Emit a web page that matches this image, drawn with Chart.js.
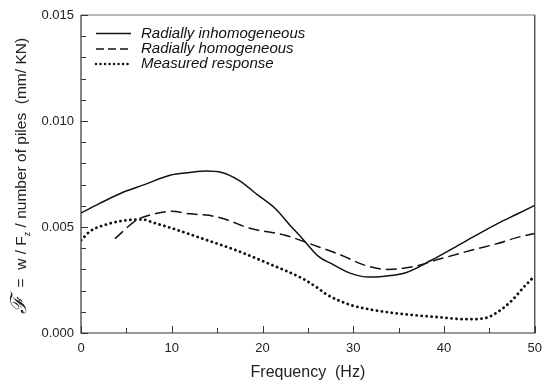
<!DOCTYPE html>
<html>
<head>
<meta charset="utf-8">
<script src="https://cdn.jsdelivr.net/npm/chart.js@4.4.1/dist/chart.umd.min.js"></script>
<style>
  html, body { margin: 0; padding: 0; background: #fff; }
  #wrap { width: 550px; height: 388px; position: relative; }
</style>
</head>
<body>
<div id="wrap"><canvas id="c" width="550" height="388"></canvas></div>
<script>
// ---- data ----
const seriesNames = ["Radially inhomogeneous", "Radially homogeneous", "Measured response"];

const inhomFreq   = [0, 2, 4.7, 7, 9.8, 12, 13.8, 15.5, 17.4, 19.5, 21.4, 23, 24.4, 26.2, 27.6, 29.8, 31.7, 33.5, 35.7, 38.6, 42.2, 45.9, 48, 50];
const inhomValues = [0.00566, 0.0061, 0.00665, 0.0070, 0.00744, 0.00757, 0.00764, 0.00757, 0.0072, 0.0065, 0.00587, 0.0051, 0.00445, 0.0036, 0.00327, 0.0028, 0.00264, 0.00268, 0.00283, 0.00343, 0.00429, 0.00516, 0.0056, 0.00602];

const homFreq   = [3.75, 6.1, 7.9, 10, 12, 14.1, 16, 18.5, 22.5, 26.2, 28.7, 31.3, 33.8, 36.4, 39.7, 43, 45.9, 48, 50];
const homValues = [0.00445, 0.00532, 0.0056, 0.00574, 0.00562, 0.00555, 0.00535, 0.00495, 0.00461, 0.00406, 0.00367, 0.00319, 0.0030, 0.00311, 0.00351, 0.0039, 0.00422, 0.0045, 0.00469];

const measFreq   = [0, 1, 2.5, 5, 6.85, 8, 9.8, 13.4, 17.1, 20.7, 24.4, 26.2, 26.9, 29.8, 32, 34.9, 39.3, 42.6, 44.5, 45.5, 47.3, 48.8, 50];
const measValues = [0.00437, 0.0048, 0.00508, 0.00532, 0.00535, 0.0052, 0.00497, 0.00445, 0.0039, 0.00327, 0.00257, 0.00209, 0.00186, 0.00131, 0.0011, 0.00092, 0.00075, 0.00065, 0.0007, 0.00088, 0.00146, 0.00217, 0.0027];

const xTicks = [0, 10, 20, 30, 40, 50];
const yTicks = [0.000, 0.005, 0.010, 0.015];
const xMinorStep = 5;
const yMinorStep = 0.001;
const xTitle = "Frequency  (Hz)";

function pts(xs, ys) { return xs.map((x, i) => ({ x: x, y: ys[i] })); }

const lineStyles = [
  { dash: [], width: 1.5, cap: 'butt' },
  { dash: [11, 5], width: 1.5, cap: 'butt' },
  { dash: [0.1, 4.9], width: 2.8, cap: 'round' }
];

const frameTicks = {
  id: 'frameTicks',
  afterDatasetsDraw(chart) {
    const { ctx, chartArea: a, scales: { x, y } } = chart;
    ctx.save();
    // frame
    ctx.lineWidth = 1.2;
    ctx.strokeStyle = '#777';
    ctx.beginPath(); ctx.moveTo(a.left, a.top); ctx.lineTo(a.right, a.top); ctx.stroke();
    ctx.strokeStyle = '#333';
    ctx.beginPath();
    ctx.moveTo(a.left, a.top); ctx.lineTo(a.left, a.bottom); ctx.lineTo(a.right, a.bottom); ctx.lineTo(a.right, a.top);
    ctx.stroke();
    // ticks inward
    ctx.lineWidth = 1;
    ctx.strokeStyle = '#333';
    for (let v = 0; v <= 50 + 1e-9; v += xMinorStep) {
      const px = Math.round(x.getPixelForValue(v)) + 0.5;
      const major = xTicks.some(t => Math.abs(t - v) < 1e-9);
      const len = major ? 7 : 5;
      ctx.beginPath(); ctx.moveTo(px, a.bottom); ctx.lineTo(px, a.bottom - len); ctx.stroke();
    }
    for (let k = 0; k <= 15; k++) {
      const v = k * yMinorStep;
      const py = Math.round(y.getPixelForValue(v)) + 0.5;
      const major = k % 5 === 0;
      const len = major ? 7 : 5;
      ctx.beginPath(); ctx.moveTo(a.left, py); ctx.lineTo(a.left + len, py); ctx.stroke();
    }
    // legend
    const lx0 = a.left + 15, lx1 = a.left + 50, tx = a.left + 60;
    const rows = [a.top + 18.5, a.top + 34, a.top + 49];
    ctx.font = 'italic 15px "Liberation Sans", Arial, sans-serif';
    ctx.fillStyle = '#111';
    ctx.textBaseline = 'middle';
    ctx.textAlign = 'left';
    rows.forEach((ry, i) => {
      const s = lineStyles[i];
      ctx.save();
      ctx.strokeStyle = '#111';
      ctx.lineWidth = i === 2 ? 2.4 : 1.5;
      ctx.lineCap = s.cap;
      ctx.setLineDash(i === 1 ? [8, 4] : (i === 2 ? [0.1, 4.4] : []));
      ctx.beginPath(); ctx.moveTo(lx0, ry); ctx.lineTo(lx1, ry); ctx.stroke();
      ctx.restore();
      ctx.fillText(seriesNames[i], tx, ry);
    });
    // x title
    ctx.font = '16px "Liberation Sans", Arial, sans-serif';
    ctx.fillStyle = '#222';
    ctx.textAlign = 'center';
    ctx.textBaseline = 'middle';
    ctx.fillText(xTitle, (a.left + a.right) / 2 - 0, 373);
    // y title (rotated)
    const cx = 20, cy = 176;
    ctx.translate(cx, cy);
    ctx.rotate(-Math.PI / 2);
    const parts = [
      { t: 'ℱ', f: 'italic 22px "DejaVu Serif", serif', dy: 0 },
      { t: '  =  w / F', f: '15.5px "Liberation Sans", Arial, sans-serif', dy: 0 },
      { t: 'z', f: '9px "Liberation Sans", Arial, sans-serif', dy: 4 },
      { t: ' / number of piles  (mm/ KN)', f: '15.5px "Liberation Sans", Arial, sans-serif', dy: 0 }
    ];
    let total = 0;
    parts.forEach(p => { ctx.font = p.f; p.w = ctx.measureText(p.t).width; total += p.w; });
    let xx = -total / 2;
    ctx.textAlign = 'left';
    ctx.textBaseline = 'alphabetic';
    parts.forEach(p => {
      ctx.font = p.f;
      ctx.fillText(p.t, xx, 6 + p.dy);
      xx += p.w;
    });
    ctx.restore();
  }
};

const datasets = [
  { label: seriesNames[0], data: pts(inhomFreq, inhomValues) },
  { label: seriesNames[1], data: pts(homFreq, homValues) },
  { label: seriesNames[2], data: pts(measFreq, measValues) }
].map((d, i) => Object.assign(d, {
  borderColor: '#111',
  borderWidth: lineStyles[i].width,
  borderDash: lineStyles[i].dash,
  borderCapStyle: lineStyles[i].cap,
  pointRadius: 0,
  fill: false,
  cubicInterpolationMode: 'monotone'
}));

new Chart(document.getElementById('c'), {
  type: 'line',
  data: { datasets },
  options: {
    responsive: false,
    animation: false,
    devicePixelRatio: 1,
    layout: { padding: { top: 15, right: 13, left: 0, bottom: 0 } },
    plugins: { legend: { display: false }, tooltip: { enabled: false } },
    scales: {
      x: {
        type: 'linear', min: 0, max: 50,
        grid: { display: false, drawTicks: false },
        border: { display: false },
        afterBuildTicks(s) { s.ticks = xTicks.map(v => ({ value: v })); },
        afterFit(s) { s.height = 55; },
        ticks: { font: { size: 13, family: '"Liberation Sans", Arial, sans-serif' }, color: '#222', padding: 8, maxRotation: 0 }
      },
      y: {
        type: 'linear', min: 0, max: 0.015,
        grid: { display: false, drawTicks: false },
        border: { display: false },
        afterBuildTicks(s) { s.ticks = yTicks.map(v => ({ value: v })); },
        afterFit(s) { s.width = 81; },
        ticks: { font: { size: 13, family: '"Liberation Sans", Arial, sans-serif' }, color: '#222', padding: 7,
                 callback: v => Number(v).toFixed(3) }
      }
    }
  },
  plugins: [frameTicks]
});
</script>
</body>
</html>
